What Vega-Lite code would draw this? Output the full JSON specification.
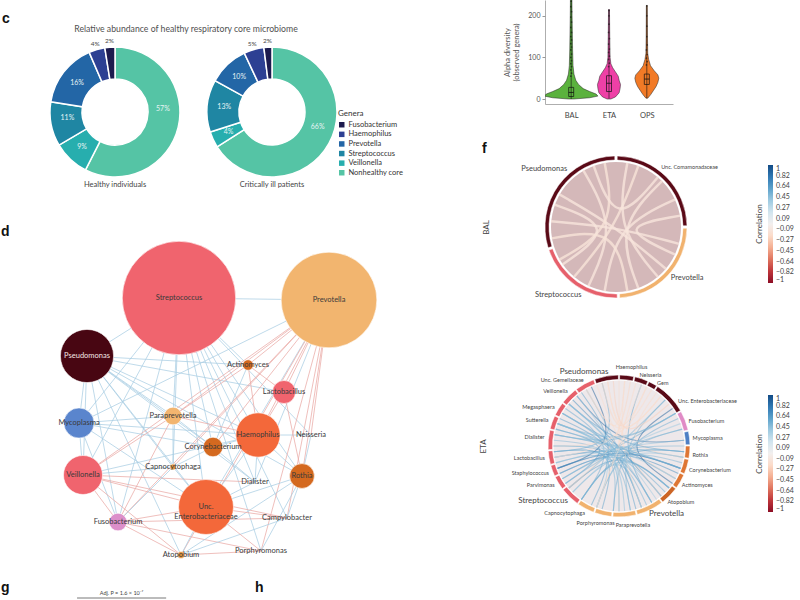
{
  "$schema": "https://vega.github.io/schema/vega-lite/v6.json",
  "padding": 0,
  "background": "white",
  "bounds": "flush",
  "spacing": 545,
  "config": {
    "view": {"stroke": null},
    "font": "Lato",
    "title": {"font": "Liberation Sans", "fontSize": 14, "fontWeight": "bold", "anchor": "start", "offset": 0, "color": "#111"}
  },
  "resolve": {"scale": {"fill": "independent", "stroke": "independent", "size": "independent", "color": "independent", "theta": "independent"}, "legend": {"fill": "independent", "stroke": "independent"}},
  "datasets": {
    "donut": [
      {"grp": "Healthy individuals", "genus": "Nonhealthy core", "pct": 57, "a0": 0, "a1": 57.5, "mid": 24, "lab": "57%"},
      {"grp": "Healthy individuals", "genus": "Veillonella", "pct": 9, "a0": 57.5, "a1": 66.5, "mid": 62, "lab": "9%"},
      {"grp": "Healthy individuals", "genus": "Streptococcus", "pct": 11, "a0": 66.5, "a1": 77.5, "mid": 73, "lab": "11%"},
      {"grp": "Healthy individuals", "genus": "Prevotella", "pct": 16, "a0": 77.5, "a1": 93.5, "mid": 85.5, "lab": "16%"},
      {"grp": "Healthy individuals", "genus": "Haemophilus", "pct": 4, "a0": 93.5, "a1": 97.5, "mid": 95.5, "lab": "4%"},
      {"grp": "Healthy individuals", "genus": "Fusobacterium", "pct": 2, "a0": 97.5, "a1": 100, "mid": 98.75, "lab": "2%"},
      {"grp": "Critically ill patients", "genus": "Nonhealthy core", "pct": 66, "a0": 0, "a1": 66, "mid": 30, "lab": "66%"},
      {"grp": "Critically ill patients", "genus": "Veillonella", "pct": 4, "a0": 66, "a1": 70, "mid": 68, "lab": "4%"},
      {"grp": "Critically ill patients", "genus": "Streptococcus", "pct": 13, "a0": 70, "a1": 83, "mid": 76.5, "lab": "13%"},
      {"grp": "Critically ill patients", "genus": "Prevotella", "pct": 10, "a0": 83, "a1": 93, "mid": 88, "lab": "10%"},
      {"grp": "Critically ill patients", "genus": "Haemophilus", "pct": 5, "a0": 93, "a1": 98, "mid": 95.5, "lab": "5%"},
      {"grp": "Critically ill patients", "genus": "Fusobacterium", "pct": 2, "a0": 98, "a1": 100, "mid": 99, "lab": "2%"}
    ],
    "nodes": [
      {"name": "Streptococcus", "x": 179, "y": 298, "abund": 40.96, "module": "1"},
      {"name": "Prevotella", "x": 329, "y": 300, "abund": 29.16, "module": "2"},
      {"name": "Pseudomonas", "x": 87, "y": 356, "abund": 9, "module": "3"},
      {"name": "Actinomyces", "x": 248, "y": 365, "abund": 0.36, "module": "4"},
      {"name": "Lactobacillus", "x": 284, "y": 392, "abund": 1.69, "module": "1"},
      {"name": "Mycoplasma", "x": 79, "y": 423, "abund": 2.89, "module": "6"},
      {"name": "Paraprevotella", "x": 173, "y": 416, "abund": 1, "module": "2"},
      {"name": "Haemophilus", "x": 258, "y": 435, "abund": 6.25, "module": "5"},
      {"name": "Neisseria", "x": 311, "y": 435, "abund": 0, "module": "4"},
      {"name": "Corynebacterium", "x": 213, "y": 447, "abund": 1.21, "module": "4"},
      {"name": "Capnocytophaga", "x": 173, "y": 467, "abund": 0.12, "module": "8"},
      {"name": "Veillonella", "x": 83, "y": 475, "abund": 4.84, "module": "1"},
      {"name": "Rothia", "x": 302, "y": 476, "abund": 1.96, "module": "4"},
      {"name": "Dialister", "x": 255, "y": 482, "abund": 0, "module": "4"},
      {"name": "Unc. Enterobacteriaceae", "x": 206, "y": 507, "abund": 9.61, "module": "5"},
      {"name": "Campylobacter", "x": 287, "y": 518, "abund": 0, "module": "4"},
      {"name": "Fusobacterium", "x": 118, "y": 522, "abund": 1, "module": "7"},
      {"name": "Atopobium", "x": 181, "y": 555, "abund": 0.16, "module": "8"},
      {"name": "Porphyromonas", "x": 261, "y": 551, "abund": 0, "module": "4"}
    ],
    "edges": [
      {"s": "Pseudomonas", "t": "Mycoplasma", "sign": "pos"},
      {"s": "Pseudomonas", "t": "Veillonella", "sign": "pos"},
      {"s": "Pseudomonas", "t": "Paraprevotella", "sign": "pos"},
      {"s": "Pseudomonas", "t": "Corynebacterium", "sign": "pos"},
      {"s": "Pseudomonas", "t": "Capnocytophaga", "sign": "pos"},
      {"s": "Pseudomonas", "t": "Unc. Enterobacteriaceae", "sign": "pos"},
      {"s": "Pseudomonas", "t": "Dialister", "sign": "pos"},
      {"s": "Pseudomonas", "t": "Actinomyces", "sign": "pos"},
      {"s": "Pseudomonas", "t": "Fusobacterium", "sign": "pos"},
      {"s": "Pseudomonas", "t": "Haemophilus", "sign": "pos"},
      {"s": "Pseudomonas", "t": "Atopobium", "sign": "pos"},
      {"s": "Pseudomonas", "t": "Lactobacillus", "sign": "pos"},
      {"s": "Pseudomonas", "t": "Rothia", "sign": "pos"},
      {"s": "Streptococcus", "t": "Mycoplasma", "sign": "pos"},
      {"s": "Streptococcus", "t": "Veillonella", "sign": "pos"},
      {"s": "Streptococcus", "t": "Paraprevotella", "sign": "pos"},
      {"s": "Streptococcus", "t": "Corynebacterium", "sign": "pos"},
      {"s": "Streptococcus", "t": "Capnocytophaga", "sign": "pos"},
      {"s": "Streptococcus", "t": "Haemophilus", "sign": "pos"},
      {"s": "Streptococcus", "t": "Dialister", "sign": "pos"},
      {"s": "Streptococcus", "t": "Campylobacter", "sign": "pos"},
      {"s": "Streptococcus", "t": "Unc. Enterobacteriaceae", "sign": "pos"},
      {"s": "Streptococcus", "t": "Prevotella", "sign": "pos"},
      {"s": "Streptococcus", "t": "Fusobacterium", "sign": "pos"},
      {"s": "Streptococcus", "t": "Rothia", "sign": "pos"},
      {"s": "Streptococcus", "t": "Neisseria", "sign": "pos"},
      {"s": "Streptococcus", "t": "Porphyromonas", "sign": "pos"},
      {"s": "Streptococcus", "t": "Pseudomonas", "sign": "pos"},
      {"s": "Streptococcus", "t": "Actinomyces", "sign": "pos"},
      {"s": "Prevotella", "t": "Actinomyces", "sign": "neg"},
      {"s": "Prevotella", "t": "Lactobacillus", "sign": "neg"},
      {"s": "Prevotella", "t": "Haemophilus", "sign": "neg"},
      {"s": "Prevotella", "t": "Neisseria", "sign": "neg"},
      {"s": "Prevotella", "t": "Rothia", "sign": "neg"},
      {"s": "Prevotella", "t": "Campylobacter", "sign": "neg"},
      {"s": "Prevotella", "t": "Porphyromonas", "sign": "neg"},
      {"s": "Prevotella", "t": "Veillonella", "sign": "neg"},
      {"s": "Prevotella", "t": "Fusobacterium", "sign": "neg"},
      {"s": "Prevotella", "t": "Paraprevotella", "sign": "neg"},
      {"s": "Prevotella", "t": "Corynebacterium", "sign": "neg"},
      {"s": "Prevotella", "t": "Dialister", "sign": "pos"},
      {"s": "Prevotella", "t": "Unc. Enterobacteriaceae", "sign": "pos"},
      {"s": "Prevotella", "t": "Atopobium", "sign": "neg"},
      {"s": "Prevotella", "t": "Capnocytophaga", "sign": "neg"},
      {"s": "Prevotella", "t": "Mycoplasma", "sign": "pos"},
      {"s": "Mycoplasma", "t": "Veillonella", "sign": "pos"},
      {"s": "Mycoplasma", "t": "Fusobacterium", "sign": "pos"},
      {"s": "Mycoplasma", "t": "Paraprevotella", "sign": "pos"},
      {"s": "Mycoplasma", "t": "Corynebacterium", "sign": "pos"},
      {"s": "Mycoplasma", "t": "Haemophilus", "sign": "pos"},
      {"s": "Mycoplasma", "t": "Unc. Enterobacteriaceae", "sign": "pos"},
      {"s": "Veillonella", "t": "Unc. Enterobacteriaceae", "sign": "neg"},
      {"s": "Veillonella", "t": "Fusobacterium", "sign": "neg"},
      {"s": "Veillonella", "t": "Dialister", "sign": "neg"},
      {"s": "Veillonella", "t": "Campylobacter", "sign": "neg"},
      {"s": "Veillonella", "t": "Capnocytophaga", "sign": "pos"},
      {"s": "Veillonella", "t": "Atopobium", "sign": "neg"},
      {"s": "Veillonella", "t": "Haemophilus", "sign": "pos"},
      {"s": "Veillonella", "t": "Paraprevotella", "sign": "neg"},
      {"s": "Fusobacterium", "t": "Unc. Enterobacteriaceae", "sign": "neg"},
      {"s": "Fusobacterium", "t": "Atopobium", "sign": "neg"},
      {"s": "Fusobacterium", "t": "Porphyromonas", "sign": "neg"},
      {"s": "Fusobacterium", "t": "Campylobacter", "sign": "neg"},
      {"s": "Fusobacterium", "t": "Paraprevotella", "sign": "neg"},
      {"s": "Fusobacterium", "t": "Capnocytophaga", "sign": "pos"},
      {"s": "Atopobium", "t": "Porphyromonas", "sign": "neg"},
      {"s": "Atopobium", "t": "Unc. Enterobacteriaceae", "sign": "pos"},
      {"s": "Atopobium", "t": "Campylobacter", "sign": "pos"},
      {"s": "Atopobium", "t": "Rothia", "sign": "pos"},
      {"s": "Unc. Enterobacteriaceae", "t": "Campylobacter", "sign": "neg"},
      {"s": "Unc. Enterobacteriaceae", "t": "Porphyromonas", "sign": "neg"},
      {"s": "Unc. Enterobacteriaceae", "t": "Dialister", "sign": "pos"},
      {"s": "Unc. Enterobacteriaceae", "t": "Rothia", "sign": "pos"},
      {"s": "Unc. Enterobacteriaceae", "t": "Haemophilus", "sign": "pos"},
      {"s": "Unc. Enterobacteriaceae", "t": "Capnocytophaga", "sign": "pos"},
      {"s": "Haemophilus", "t": "Neisseria", "sign": "pos"},
      {"s": "Haemophilus", "t": "Rothia", "sign": "pos"},
      {"s": "Haemophilus", "t": "Lactobacillus", "sign": "neg"},
      {"s": "Haemophilus", "t": "Corynebacterium", "sign": "pos"},
      {"s": "Haemophilus", "t": "Dialister", "sign": "pos"},
      {"s": "Actinomyces", "t": "Lactobacillus", "sign": "neg"},
      {"s": "Actinomyces", "t": "Paraprevotella", "sign": "neg"},
      {"s": "Actinomyces", "t": "Haemophilus", "sign": "neg"},
      {"s": "Actinomyces", "t": "Corynebacterium", "sign": "pos"},
      {"s": "Rothia", "t": "Campylobacter", "sign": "pos"},
      {"s": "Rothia", "t": "Porphyromonas", "sign": "pos"},
      {"s": "Rothia", "t": "Neisseria", "sign": "pos"},
      {"s": "Rothia", "t": "Lactobacillus", "sign": "neg"},
      {"s": "Paraprevotella", "t": "Corynebacterium", "sign": "pos"},
      {"s": "Paraprevotella", "t": "Capnocytophaga", "sign": "pos"},
      {"s": "Paraprevotella", "t": "Haemophilus", "sign": "neg"},
      {"s": "Corynebacterium", "t": "Dialister", "sign": "pos"},
      {"s": "Corynebacterium", "t": "Capnocytophaga", "sign": "pos"}
    ],
    "violin": [
      {"g": "BAL", "v": 0, "lo": 0.927, "hi": 1.073},
      {"g": "BAL", "v": 3, "lo": 0.512, "hi": 1.488},
      {"g": "BAL", "v": 7, "lo": 0.293, "hi": 1.707},
      {"g": "BAL", "v": 12, "lo": 0.341, "hi": 1.659},
      {"g": "BAL", "v": 18, "lo": 0.512, "hi": 1.488},
      {"g": "BAL", "v": 25, "lo": 0.683, "hi": 1.317},
      {"g": "BAL", "v": 35, "lo": 0.805, "hi": 1.195},
      {"g": "BAL", "v": 45, "lo": 0.878, "hi": 1.122},
      {"g": "BAL", "v": 60, "lo": 0.927, "hi": 1.073},
      {"g": "BAL", "v": 80, "lo": 0.951, "hi": 1.049},
      {"g": "BAL", "v": 120, "lo": 0.963, "hi": 1.037},
      {"g": "BAL", "v": 200, "lo": 0.976, "hi": 1.024},
      {"g": "BAL", "v": 240, "lo": 0.98, "hi": 1.02},
      {"g": "ETA", "v": 0, "lo": 1.951, "hi": 2.049},
      {"g": "ETA", "v": 5, "lo": 1.829, "hi": 2.171},
      {"g": "ETA", "v": 15, "lo": 1.732, "hi": 2.268},
      {"g": "ETA", "v": 25, "lo": 1.707, "hi": 2.293},
      {"g": "ETA", "v": 35, "lo": 1.695, "hi": 2.305},
      {"g": "ETA", "v": 45, "lo": 1.732, "hi": 2.268},
      {"g": "ETA", "v": 55, "lo": 1.756, "hi": 2.244},
      {"g": "ETA", "v": 65, "lo": 1.829, "hi": 2.171},
      {"g": "ETA", "v": 75, "lo": 1.902, "hi": 2.098},
      {"g": "ETA", "v": 85, "lo": 1.951, "hi": 2.049},
      {"g": "ETA", "v": 100, "lo": 1.971, "hi": 2.029},
      {"g": "ETA", "v": 150, "lo": 1.98, "hi": 2.02},
      {"g": "ETA", "v": 215, "lo": 1.988, "hi": 2.012},
      {"g": "OPS", "v": 2, "lo": 2.976, "hi": 3.024},
      {"g": "OPS", "v": 10, "lo": 2.902, "hi": 3.098},
      {"g": "OPS", "v": 20, "lo": 2.829, "hi": 3.171},
      {"g": "OPS", "v": 30, "lo": 2.756, "hi": 3.244},
      {"g": "OPS", "v": 40, "lo": 2.707, "hi": 3.293},
      {"g": "OPS", "v": 50, "lo": 2.683, "hi": 3.317},
      {"g": "OPS", "v": 58, "lo": 2.707, "hi": 3.293},
      {"g": "OPS", "v": 68, "lo": 2.805, "hi": 3.195},
      {"g": "OPS", "v": 80, "lo": 2.902, "hi": 3.098},
      {"g": "OPS", "v": 95, "lo": 2.951, "hi": 3.049},
      {"g": "OPS", "v": 110, "lo": 2.976, "hi": 3.024},
      {"g": "OPS", "v": 150, "lo": 2.983, "hi": 3.017},
      {"g": "OPS", "v": 225, "lo": 2.988, "hi": 3.012}
    ],
    "vbox": [
      {"g": "BAL", "c": 1, "q1": 6, "med": 16, "q3": 28, "lo": 0, "hi": 240},
      {"g": "ETA", "c": 2, "q1": 18, "med": 38, "q3": 56, "lo": 1, "hi": 215},
      {"g": "OPS", "c": 3, "q1": 35, "med": 48, "q3": 60, "lo": 2, "hi": 225}
    ],
    "vpts": [
      {"x": 0.99, "v": 55}, {"x": 1.01, "v": 62}, {"x": 0.99, "v": 70}, {"x": 1.01, "v": 78}, {"x": 0.99, "v": 85},
      {"x": 1.01, "v": 92}, {"x": 0.99, "v": 100}, {"x": 1.01, "v": 108}, {"x": 0.99, "v": 118}, {"x": 1.01, "v": 125},
      {"x": 0.99, "v": 133}, {"x": 1.01, "v": 142}, {"x": 0.99, "v": 150}, {"x": 1.01, "v": 160}, {"x": 0.99, "v": 172},
      {"x": 1.01, "v": 185}, {"x": 0.99, "v": 197}, {"x": 1.01, "v": 210}, {"x": 0.99, "v": 222}, {"x": 1.0, "v": 235},
      {"x": 1.99, "v": 78}, {"x": 2.01, "v": 86}, {"x": 1.99, "v": 95}, {"x": 2.01, "v": 103}, {"x": 1.99, "v": 112},
      {"x": 2.01, "v": 120}, {"x": 1.99, "v": 132}, {"x": 2.01, "v": 145}, {"x": 1.99, "v": 160}, {"x": 2.0, "v": 180},
      {"x": 2.0, "v": 200}, {"x": 2.0, "v": 213},
      {"x": 2.99, "v": 82}, {"x": 3.01, "v": 90}, {"x": 2.99, "v": 98}, {"x": 3.01, "v": 107}, {"x": 2.99, "v": 118},
      {"x": 3.01, "v": 130}, {"x": 3.0, "v": 150}, {"x": 3.0, "v": 175}, {"x": 3.0, "v": 200}, {"x": 3.0, "v": 224}
    ],
    "circle": [
      {"ang": -1, "x": 0, "y": 0},
      {"ang": 0, "x": 0, "y": 0.92}, {"ang": 5, "x": 0.08, "y": 0.916}, {"ang": 10, "x": 0.16, "y": 0.906}, {"ang": 15, "x": 0.238, "y": 0.889},
      {"ang": 20, "x": 0.315, "y": 0.865}, {"ang": 25, "x": 0.389, "y": 0.834}, {"ang": 30, "x": 0.46, "y": 0.797}, {"ang": 35, "x": 0.528, "y": 0.753},
      {"ang": 40, "x": 0.592, "y": 0.705}, {"ang": 45, "x": 0.65, "y": 0.65}, {"ang": 50, "x": 0.705, "y": 0.592}, {"ang": 55, "x": 0.753, "y": 0.528},
      {"ang": 60, "x": 0.797, "y": 0.46}, {"ang": 65, "x": 0.834, "y": 0.389}, {"ang": 70, "x": 0.865, "y": 0.315}, {"ang": 75, "x": 0.889, "y": 0.238},
      {"ang": 80, "x": 0.906, "y": 0.16}, {"ang": 85, "x": 0.916, "y": 0.08}, {"ang": 90, "x": 0.92, "y": 0}, {"ang": 95, "x": 0.916, "y": -0.08},
      {"ang": 100, "x": 0.906, "y": -0.16}, {"ang": 105, "x": 0.889, "y": -0.238}, {"ang": 110, "x": 0.865, "y": -0.315}, {"ang": 115, "x": 0.834, "y": -0.389},
      {"ang": 120, "x": 0.797, "y": -0.46}, {"ang": 125, "x": 0.753, "y": -0.528}, {"ang": 130, "x": 0.705, "y": -0.592}, {"ang": 135, "x": 0.65, "y": -0.65},
      {"ang": 140, "x": 0.592, "y": -0.705}, {"ang": 145, "x": 0.528, "y": -0.753}, {"ang": 150, "x": 0.46, "y": -0.797}, {"ang": 155, "x": 0.389, "y": -0.834},
      {"ang": 160, "x": 0.315, "y": -0.865}, {"ang": 165, "x": 0.238, "y": -0.889}, {"ang": 170, "x": 0.16, "y": -0.906}, {"ang": 175, "x": 0.08, "y": -0.916},
      {"ang": 180, "x": 0, "y": -0.92}, {"ang": 185, "x": -0.08, "y": -0.916}, {"ang": 190, "x": -0.16, "y": -0.906}, {"ang": 195, "x": -0.238, "y": -0.889},
      {"ang": 200, "x": -0.315, "y": -0.865}, {"ang": 205, "x": -0.389, "y": -0.834}, {"ang": 210, "x": -0.46, "y": -0.797}, {"ang": 215, "x": -0.528, "y": -0.753},
      {"ang": 220, "x": -0.592, "y": -0.705}, {"ang": 225, "x": -0.65, "y": -0.65}, {"ang": 230, "x": -0.705, "y": -0.592}, {"ang": 235, "x": -0.753, "y": -0.528},
      {"ang": 240, "x": -0.797, "y": -0.46}, {"ang": 245, "x": -0.834, "y": -0.389}, {"ang": 250, "x": -0.865, "y": -0.315}, {"ang": 255, "x": -0.889, "y": -0.238},
      {"ang": 260, "x": -0.906, "y": -0.16}, {"ang": 265, "x": -0.916, "y": -0.08}, {"ang": 270, "x": -0.92, "y": 0}, {"ang": 275, "x": -0.916, "y": 0.08},
      {"ang": 280, "x": -0.906, "y": 0.16}, {"ang": 285, "x": -0.889, "y": 0.238}, {"ang": 290, "x": -0.865, "y": 0.315}, {"ang": 295, "x": -0.834, "y": 0.389},
      {"ang": 300, "x": -0.797, "y": 0.46}, {"ang": 305, "x": -0.753, "y": 0.528}, {"ang": 310, "x": -0.705, "y": 0.592}, {"ang": 315, "x": -0.65, "y": 0.65},
      {"ang": 320, "x": -0.592, "y": 0.705}, {"ang": 325, "x": -0.528, "y": 0.753}, {"ang": 330, "x": -0.46, "y": 0.797}, {"ang": 335, "x": -0.389, "y": 0.834},
      {"ang": 340, "x": -0.315, "y": 0.865}, {"ang": 345, "x": -0.238, "y": 0.889}, {"ang": 350, "x": -0.16, "y": 0.906}, {"ang": 355, "x": -0.08, "y": 0.916}
    ],
    "chords": [
      {"v": "BAL", "c": "b1", "p0": 300, "p1": -1, "p2": 130, "r": -0.1},
      {"v": "BAL", "c": "b2", "p0": 330, "p1": -1, "p2": 205, "r": -0.1},
      {"v": "BAL", "c": "b3", "p0": 20, "p1": -1, "p2": 220, "r": -0.12},
      {"v": "BAL", "c": "b4", "p0": 45, "p1": -1, "p2": 160, "r": -0.1},
      {"v": "BAL", "c": "b5", "p0": 275, "p1": -1, "p2": 105, "r": -0.1},
      {"v": "BAL", "c": "b6", "p0": 350, "p1": -1, "p2": 240, "r": -0.12},
      {"v": "BAL", "c": "b7", "p0": 65, "p1": -1, "p2": 190, "r": -0.1},
      {"v": "BAL", "c": "b8", "p0": 10, "p1": -1, "p2": 140, "r": -0.1},
      {"v": "BAL", "c": "b9", "p0": 290, "p1": -1, "p2": 235, "r": -0.1},
      {"v": "BAL", "c": "b10", "p0": 340, "p1": -1, "p2": 40, "r": -0.1},
      {"v": "BAL", "c": "b11", "p0": 260, "p1": -1, "p2": 170, "r": -0.12},
      {"v": "BAL", "c": "b12", "p0": 80, "p1": -1, "p2": 115, "r": -0.1},
      {"v": "ETA", "c": "e1", "p0": 300, "p1": -1, "p2": 120, "r": 0.6},
      {"v": "ETA", "c": "e2", "p0": 290, "p1": -1, "p2": 135, "r": 0.55},
      {"v": "ETA", "c": "e3", "p0": 280, "p1": -1, "p2": 100, "r": 0.5},
      {"v": "ETA", "c": "e4", "p0": 270, "p1": -1, "p2": 150, "r": 0.6},
      {"v": "ETA", "c": "e5", "p0": 260, "p1": -1, "p2": 110, "r": 0.65},
      {"v": "ETA", "c": "e6", "p0": 250, "p1": -1, "p2": 90, "r": 0.5},
      {"v": "ETA", "c": "e7", "p0": 310, "p1": -1, "p2": 160, "r": 0.55},
      {"v": "ETA", "c": "e8", "p0": 315, "p1": -1, "p2": 140, "r": 0.7},
      {"v": "ETA", "c": "e9", "p0": 320, "p1": -1, "p2": 85, "r": 0.85},
      {"v": "ETA", "c": "e10", "p0": 240, "p1": -1, "p2": 60, "r": 0.55},
      {"v": "ETA", "c": "e11", "p0": 230, "p1": -1, "p2": 45, "r": 0.5},
      {"v": "ETA", "c": "e12", "p0": 325, "p1": -1, "p2": 205, "r": 0.6},
      {"v": "ETA", "c": "e13", "p0": 305, "p1": -1, "p2": 215, "r": 0.55},
      {"v": "ETA", "c": "e14", "p0": 275, "p1": -1, "p2": 180, "r": 0.5},
      {"v": "ETA", "c": "e15", "p0": 255, "p1": -1, "p2": 170, "r": 0.5},
      {"v": "ETA", "c": "e16", "p0": 265, "p1": -1, "p2": 195, "r": 0.6},
      {"v": "ETA", "c": "e17", "p0": 285, "p1": -1, "p2": 235, "r": 0.6},
      {"v": "ETA", "c": "e18", "p0": 335, "p1": -1, "p2": 250, "r": 0.9},
      {"v": "ETA", "c": "e19", "p0": 345, "p1": -1, "p2": 265, "r": 0.55},
      {"v": "ETA", "c": "e20", "p0": 20, "p1": -1, "p2": 150, "r": 0.6},
      {"v": "ETA", "c": "e21", "p0": 45, "p1": -1, "p2": 170, "r": 0.5},
      {"v": "ETA", "c": "e22", "p0": 55, "p1": -1, "p2": 125, "r": 0.9},
      {"v": "ETA", "c": "e23", "p0": 65, "p1": -1, "p2": 185, "r": 0.55},
      {"v": "ETA", "c": "e24", "p0": 75, "p1": -1, "p2": 200, "r": 0.5},
      {"v": "ETA", "c": "e25", "p0": 95, "p1": -1, "p2": 215, "r": 0.6},
      {"v": "ETA", "c": "e26", "p0": 105, "p1": -1, "p2": 225, "r": 0.5},
      {"v": "ETA", "c": "e27", "p0": 130, "p1": -1, "p2": 230, "r": 0.65},
      {"v": "ETA", "c": "e28", "p0": 115, "p1": -1, "p2": 245, "r": 0.7},
      {"v": "ETA", "c": "e29", "p0": 155, "p1": -1, "p2": 215, "r": 0.5},
      {"v": "ETA", "c": "e30", "p0": 160, "p1": -1, "p2": 300, "r": 0.55},
      {"v": "ETA", "c": "e31", "p0": 345, "p1": -1, "p2": 25, "r": -0.22},
      {"v": "ETA", "c": "e32", "p0": 350, "p1": -1, "p2": 40, "r": -0.2},
      {"v": "ETA", "c": "e33", "p0": 355, "p1": -1, "p2": 50, "r": -0.25},
      {"v": "ETA", "c": "e34", "p0": 5, "p1": -1, "p2": 330, "r": -0.2},
      {"v": "ETA", "c": "e35", "p0": 0, "p1": -1, "p2": 180, "r": -0.18},
      {"v": "ETA", "c": "e36", "p0": 15, "p1": -1, "p2": 200, "r": -0.2},
      {"v": "ETA", "c": "e37", "p0": 10, "p1": -1, "p2": 230, "r": -0.22},
      {"v": "ETA", "c": "e38", "p0": 340, "p1": -1, "p2": 140, "r": -0.18},
      {"v": "ETA", "c": "e39", "p0": 30, "p1": -1, "p2": 270, "r": -0.2},
      {"v": "ETA", "c": "e40", "p0": 35, "p1": -1, "p2": 100, "r": -0.2},
      {"v": "ETA", "c": "e41", "p0": 5, "p1": -1, "p2": 160, "r": -0.18},
      {"v": "ETA", "c": "e42", "p0": 350, "p1": -1, "p2": 120, "r": -0.18},
      {"v": "ETA", "c": "e43", "p0": 285, "p1": -1, "p2": 110, "r": 0.5},
      {"v": "ETA", "c": "e44", "p0": 295, "p1": -1, "p2": 165, "r": 0.6},
      {"v": "ETA", "c": "e45", "p0": 245, "p1": -1, "p2": 130, "r": 0.55},
      {"v": "ETA", "c": "e46", "p0": 235, "p1": -1, "p2": 75, "r": 0.5},
      {"v": "ETA", "c": "e47", "p0": 310, "p1": -1, "p2": 95, "r": 0.6},
      {"v": "ETA", "c": "e48", "p0": 200, "p1": -1, "p2": 100, "r": 0.45},
      {"v": "ETA", "c": "e49", "p0": 270, "p1": -1, "p2": 120, "r": 0.4},
      {"v": "ETA", "c": "e50", "p0": 300, "p1": -1, "p2": 150, "r": 0.45},
      {"v": "ETA", "c": "e51", "p0": 280, "p1": -1, "p2": 60, "r": 0.5},
      {"v": "ETA", "c": "e52", "p0": 320, "p1": -1, "p2": 180, "r": 0.4},
      {"v": "ETA", "c": "e53", "p0": 260, "p1": -1, "p2": 140, "r": 0.45},
      {"v": "ETA", "c": "e54", "p0": 250, "p1": -1, "p2": 110, "r": 0.75},
      {"v": "ETA", "c": "e55", "p0": 290, "p1": -1, "p2": 200, "r": 0.4},
      {"v": "ETA", "c": "e56", "p0": 240, "p1": -1, "p2": 95, "r": 0.5},
      {"v": "ETA", "c": "e57", "p0": 330, "p1": -1, "p2": 160, "r": 0.45},
      {"v": "ETA", "c": "e58", "p0": 225, "p1": -1, "p2": 70, "r": 0.4},
      {"v": "ETA", "c": "e59", "p0": 215, "p1": -1, "p2": 130, "r": 0.5},
      {"v": "ETA", "c": "e60", "p0": 175, "p1": -1, "p2": 290, "r": 0.45},
      {"v": "ETA", "c": "e61", "p0": 185, "p1": -1, "p2": 265, "r": 0.5},
      {"v": "ETA", "c": "e62", "p0": 145, "p1": -1, "p2": 310, "r": 0.4},
      {"v": "ETA", "c": "e63", "p0": 20, "p1": -1, "p2": 260, "r": -0.15},
      {"v": "ETA", "c": "e64", "p0": 40, "p1": -1, "p2": 330, "r": -0.18},
      {"v": "ETA", "c": "e65", "p0": 25, "p1": -1, "p2": 200, "r": -0.15},
      {"v": "ETA", "c": "e66", "p0": 60, "p1": -1, "p2": 290, "r": 0.5},
      {"v": "ETA", "c": "e67", "p0": 85, "p1": -1, "p2": 255, "r": 0.45},
      {"v": "ETA", "c": "e68", "p0": 110, "p1": -1, "p2": 280, "r": 0.5}
    ],
    "rings": [
      {"v": "BAL", "name": "Pseudomonas", "a0": 253, "a1": 359, "mod": "M", "la": 320, "major": true},
      {"v": "BAL", "name": "Unc. Comamonadaceae", "a0": 1, "a1": 89, "mod": "M", "la": 37, "major": false},
      {"v": "BAL", "name": "Prevotella", "a0": 91, "a1": 177, "mod": "L", "la": 133, "major": true},
      {"v": "BAL", "name": "Streptococcus", "a0": 179, "a1": 251, "mod": "R", "la": 207, "major": true},
      {"v": "ETA", "name": "Haemophilus", "a0": 0.5, "a1": 12, "mod": "M", "la": 9, "major": false},
      {"v": "ETA", "name": "Neisseria", "a0": 13, "a1": 24, "mod": "M", "la": 16, "major": false},
      {"v": "ETA", "name": "Gem", "a0": 25, "a1": 32, "mod": "M", "la": 31, "major": false},
      {"v": "ETA", "name": "Unc. Enterobacteriaceae", "a0": 33, "a1": 60, "mod": "M", "la": 53, "major": false},
      {"v": "ETA", "name": "Fusobacterium", "a0": 61, "a1": 77, "mod": "F", "la": 70, "major": false},
      {"v": "ETA", "name": "Mycoplasma", "a0": 78, "a1": 89, "mod": "B", "la": 84, "major": false},
      {"v": "ETA", "name": "Rothia", "a0": 90, "a1": 100, "mod": "O", "la": 97, "major": false},
      {"v": "ETA", "name": "Corynebacterium", "a0": 101, "a1": 113, "mod": "O", "la": 109, "major": false},
      {"v": "ETA", "name": "Actinomyces", "a0": 114, "a1": 126, "mod": "O", "la": 122, "major": false},
      {"v": "ETA", "name": "Atopobium", "a0": 127, "a1": 142, "mod": "DO", "la": 139, "major": false},
      {"v": "ETA", "name": "Prevotella", "a0": 143, "a1": 165, "mod": "L", "la": 156, "major": true},
      {"v": "ETA", "name": "Paraprevotella", "a0": 166, "a1": 185, "mod": "L", "la": 170, "major": false},
      {"v": "ETA", "name": "Porphyromonas", "a0": 186, "a1": 200, "mod": "L", "la": 197, "major": false},
      {"v": "ETA", "name": "Capnocytophaga", "a0": 201, "a1": 215, "mod": "L", "la": 207, "major": false},
      {"v": "ETA", "name": "Streptococcus", "a0": 216, "a1": 232, "mod": "R", "la": 223, "major": true},
      {"v": "ETA", "name": "Parvimonas", "a0": 233, "a1": 244, "mod": "R", "la": 239, "major": false},
      {"v": "ETA", "name": "Staphylococcus", "a0": 245, "a1": 254, "mod": "R", "la": 249, "major": false},
      {"v": "ETA", "name": "Lactobacillus", "a0": 255, "a1": 266, "mod": "R", "la": 261, "major": false},
      {"v": "ETA", "name": "Dialister", "a0": 267, "a1": 283, "mod": "R", "la": 277, "major": false},
      {"v": "ETA", "name": "Sutterella", "a0": 284, "a1": 295, "mod": "R", "la": 290, "major": false},
      {"v": "ETA", "name": "Megasphaera", "a0": 296, "a1": 307, "mod": "R", "la": 301, "major": false},
      {"v": "ETA", "name": "Veillonella", "a0": 308, "a1": 322, "mod": "R", "la": 317, "major": false},
      {"v": "ETA", "name": "Unc. Gemellaceae", "a0": 323, "a1": 339, "mod": "R", "la": 332, "major": false},
      {"v": "ETA", "name": "Pseudomonas", "a0": 340, "a1": 359.5, "mod": "M", "la": 352, "major": true}
    ]
  },
  "hconcat": [
    {
      "vconcat": [
        {
          "vconcat": [
            {
              "width": 372, "height": 30,
              "title": {"text": "c", "dy": 30, "dx": 2},
              "data": {"values": [{"t": "Relative abundance of healthy respiratory core microbiome"}]},
              "mark": {"type": "text", "fontSize": 8.7, "color": "#505050", "dy": 14},
              "encoding": {"text": {"field": "t"}}
            },
            {
              "width": 450, "height": 144,
              "data": {"name": "donut"},
              "encoding": {
                "x": {"field": "grp", "type": "nominal", "scale": {"type": "point", "padding": 0, "domain": ["Healthy individuals", "Critically ill patients"], "range": [115, 272]}, "axis": null}
              },
              "layer": [
                {
                  "mark": {"type": "arc", "outerRadius": 65, "innerRadius": 33, "stroke": "white", "strokeWidth": 1.5},
                  "encoding": {
                    "theta": {"field": "a0", "type": "quantitative", "stack": null, "scale": {"domain": [0, 100], "range": [0, 6.2832], "nice": false}},
                    "theta2": {"field": "a1"},
                    "fill": {
                      "field": "genus", "type": "nominal",
                      "scale": {"domain": ["Fusobacterium", "Haemophilus", "Prevotella", "Streptococcus", "Veillonella", "Nonhealthy core"], "range": ["#1d1b4e", "#2d4093", "#2366a6", "#1f86a3", "#27aeae", "#55c4a5"]},
                      "legend": {"orient": "none", "legendX": 338, "legendY": 70, "title": "Genera", "titleFontSize": 8, "titleFontWeight": "normal", "titleColor": "#333", "titlePadding": 3, "labelFontSize": 7.5, "labelColor": "#333", "symbolType": "square", "symbolSize": 30, "symbolStrokeWidth": 0, "rowPadding": 0.6, "labelOffset": 3}
                    }
                  }
                },
                {
                  "transform": [{"filter": {"not": {"field": "genus", "oneOf": ["Haemophilus", "Fusobacterium"]}}}],
                  "mark": {"type": "text", "radius": 48, "fontSize": 7, "color": "#e6f3f3"},
                  "encoding": {
                    "theta": {"field": "mid", "type": "quantitative", "scale": {"domain": [0, 100], "range": [0, 6.2832], "nice": false}},
                    "text": {"field": "lab"}
                  }
                },
                {
                  "transform": [{"filter": {"field": "genus", "oneOf": ["Haemophilus", "Fusobacterium"]}}],
                  "mark": {"type": "text", "radius": 71, "fontSize": 6.5, "color": "#444"},
                  "encoding": {
                    "theta": {"field": "mid", "type": "quantitative", "scale": {"domain": [0, 100], "range": [0, 6.2832], "nice": false}},
                    "text": {"field": "lab"}
                  }
                },
                {
                  "transform": [{"filter": {"field": "genus", "equal": "Nonhealthy core"}}],
                  "mark": {"type": "text", "dy": 73, "fontSize": 7.5, "color": "#444"},
                  "encoding": {"text": {"field": "grp"}}
                }
              ]
            }
          ],
          "spacing": 10, "bounds": "flush",
          "resolve": {"scale": {"fill": "independent", "stroke": "independent", "size": "independent", "color": "independent", "theta": "independent"}, "legend": {"fill": "independent", "stroke": "independent"}}
        },
        {
          "vconcat": [
            {
              "width": 450, "height": 318,
              "title": {"text": "d", "offset": 1, "dx": 1},
              "layer": [
                {
                  "data": {"name": "edges"},
                  "transform": [
                    {"lookup": "s", "from": {"data": {"name": "nodes"}, "key": "name", "fields": ["x", "y"]}, "as": ["sx", "sy"]},
                    {"lookup": "t", "from": {"data": {"name": "nodes"}, "key": "name", "fields": ["x", "y"]}, "as": ["tx", "ty"]}
                  ],
                  "mark": {"type": "rule", "strokeWidth": 1, "strokeOpacity": 0.75},
                  "encoding": {
                    "x": {"field": "sx", "type": "quantitative", "scale": {"domain": [0, 450], "nice": false, "zero": false}, "axis": null},
                    "y": {"field": "sy", "type": "quantitative", "scale": {"domain": [247, 565], "reverse": true, "nice": false, "zero": false}, "axis": null},
                    "x2": {"field": "tx"},
                    "y2": {"field": "ty"},
                    "stroke": {"field": "sign", "type": "nominal", "scale": {"domain": ["pos", "neg"], "range": ["#a9cde3", "#e9aaa5"]}, "legend": null}
                  }
                },
                {
                  "data": {"name": "nodes"},
                  "mark": {"type": "circle", "opacity": 1, "stroke": "white", "strokeWidth": 0.6},
                  "encoding": {
                    "x": {"field": "x", "type": "quantitative", "scale": {"domain": [0, 450], "nice": false, "zero": false}, "axis": null},
                    "y": {"field": "y", "type": "quantitative", "scale": {"domain": [247, 565], "reverse": true, "nice": false, "zero": false}, "axis": null},
                    "size": {"field": "abund", "type": "quantitative", "scale": {"type": "linear", "domain": [0, 41], "range": [0, 12881], "nice": false}, "legend": null},
                    "fill": {"field": "module", "type": "nominal", "scale": {"domain": ["1", "2", "3", "4", "5", "6", "7", "8"], "range": ["#f0646e", "#f2b56f", "#480612", "#d4691f", "#f3683a", "#5a85cd", "#dc8fca", "#e4943c"]}, "legend": null}
                  }
                },
                {
                  "data": {"name": "nodes"},
                  "mark": {"type": "text", "fontSize": 7.5, "lineBreak": " "},
                  "encoding": {
                    "x": {"field": "x", "type": "quantitative", "scale": {"domain": [0, 450], "nice": false, "zero": false}, "axis": null},
                    "y": {"field": "y", "type": "quantitative", "scale": {"domain": [247, 565], "reverse": true, "nice": false, "zero": false}, "axis": null},
                    "text": {"field": "name"},
                    "color": {"condition": {"test": "datum.name === 'Pseudomonas'", "value": "#f4e6e6"}, "value": "#3a3a3a"}
                  }
                }
              ]
            },
            {
              "hconcat": [
                {
                  "width": 200, "height": 20,
                  "title": {"text": "g", "dy": 11, "dx": 1},
                  "data": {"values": [{"x1": 1, "x2": 2, "xm": 1.5, "label": "Adj. P = 1.6 × 10⁻⁷"}]},
                  "layer": [
                    {
                      "mark": {"type": "rule", "stroke": "#555", "strokeWidth": 0.8},
                      "encoding": {"x": {"field": "x1", "type": "quantitative", "scale": {"domain": [0.135, 2.38], "nice": false, "zero": false}, "axis": null}, "x2": {"field": "x2"}}
                    },
                    {
                      "mark": {"type": "text", "fontSize": 5.5, "color": "#444", "dy": -5},
                      "encoding": {"x": {"field": "xm", "type": "quantitative", "scale": {"domain": [0.135, 2.38], "nice": false, "zero": false}, "axis": null}, "text": {"field": "label"}}
                    }
                  ]
                },
                {
                  "width": 100, "height": 20,
                  "title": {"text": "h", "dy": 11},
                  "data": {"values": [{"t": ""}]},
                  "mark": "text",
                  "encoding": {"text": {"field": "t"}}
                }
              ],
              "spacing": 55, "bounds": "flush"
            }
          ],
          "spacing": 23, "bounds": "flush",
          "resolve": {"scale": {"fill": "independent", "stroke": "independent", "size": "independent", "color": "independent", "theta": "independent"}, "legend": {"fill": "independent", "stroke": "independent"}}
        }
      ],
      "spacing": 247, "bounds": "flush",
      "resolve": {"scale": {"fill": "independent", "stroke": "independent", "size": "independent", "color": "independent", "theta": "independent"}, "legend": {"fill": "independent", "stroke": "independent"}}
    },
    {
      "vconcat": [
        {
          "width": 128, "height": 104,
          "layer": [
            {
              "data": {"name": "violin"},
              "mark": {"type": "area", "orient": "horizontal", "stroke": "#222", "strokeWidth": 0.5, "clip": true, "opacity": 1},
              "encoding": {
                "y": {"field": "v", "type": "quantitative", "scale": {"domain": [-12, 238], "nice": false, "zero": false},
                  "axis": {"values": [0, 100, 200], "title": ["Alpha diversity", "(observed genera)"], "titleFontSize": 7.5, "titleFontWeight": "normal", "titleColor": "#555", "titlePadding": 7, "labelFontSize": 7, "labelColor": "#555", "tickSize": 3, "tickColor": "#999", "domainColor": "#999", "domainWidth": 0.8, "grid": false, "labelPadding": 2}},
                "x": {"field": "lo", "type": "quantitative", "stack": null, "scale": {"domain": [0.44, 3.56], "nice": false, "zero": false},
                  "axis": {"values": [1, 2, 3], "labelExpr": "datum.value == 1 ? 'BAL' : datum.value == 2 ? 'ETA' : 'OPS'", "title": null, "ticks": false, "domainColor": "#999", "domainWidth": 0.8, "labelFontSize": 7.5, "labelColor": "#444", "labelPadding": 7, "grid": false}},
                "x2": {"field": "hi"},
                "fill": {"field": "g", "type": "nominal", "scale": {"domain": ["BAL", "ETA", "OPS"], "range": ["#5bb23e", "#ee40a6", "#f27a26"]}, "legend": null}
              }
            },
            {
              "data": {"name": "vbox"},
              "mark": {"type": "rule", "stroke": "#111", "strokeWidth": 0.6, "clip": true},
              "encoding": {
                "x": {"field": "c", "type": "quantitative", "scale": {"domain": [0.44, 3.56], "nice": false, "zero": false}},
                "y": {"field": "lo", "type": "quantitative", "scale": {"domain": [-12, 238], "nice": false, "zero": false}},
                "y2": {"field": "hi"}
              }
            },
            {
              "data": {"name": "vpts"},
              "mark": {"type": "circle", "size": 3, "color": "#111", "opacity": 0.6, "clip": true},
              "encoding": {
                "x": {"field": "x", "type": "quantitative", "scale": {"domain": [0.44, 3.56], "nice": false, "zero": false}},
                "y": {"field": "v", "type": "quantitative", "scale": {"domain": [-12, 238], "nice": false, "zero": false}}
              }
            },
            {
              "data": {"name": "vbox"},
              "mark": {"type": "bar", "width": 5, "fillOpacity": 0, "stroke": "#111", "strokeWidth": 0.7},
              "encoding": {
                "x": {"field": "c", "type": "quantitative", "scale": {"domain": [0.44, 3.56], "nice": false, "zero": false}},
                "y": {"field": "q1", "type": "quantitative", "scale": {"domain": [-12, 238], "nice": false, "zero": false}},
                "y2": {"field": "q3"}
              }
            },
            {
              "data": {"name": "vbox"},
              "mark": {"type": "tick", "orient": "horizontal", "size": 5, "thickness": 0.8, "color": "#111", "opacity": 1},
              "encoding": {
                "x": {"field": "c", "type": "quantitative", "scale": {"domain": [0.44, 3.56], "nice": false, "zero": false}},
                "y": {"field": "med", "type": "quantitative", "scale": {"domain": [-12, 238], "nice": false, "zero": false}}
              }
            }
          ]
        },
        {
          "vconcat": [
            {
              "width": 142, "height": 142,
              "title": {"text": "f", "frame": "group", "dx": -63, "dy": 5},
              "layer": [
                {
                  "data": {"values": [{"panel": "BAL"}]},
                  "mark": {"type": "arc", "outerRadius": 65, "innerRadius": 0, "theta": 0, "theta2": 6.2832, "fill": "#d4b8b9"},
                  "encoding": {}
                },
                {
                  "data": {"name": "chords"},
                  "transform": [
                    {"filter": {"field": "v", "equal": "BAL"}},
                    {"fold": ["p0", "p1", "p2"], "as": ["k", "ang"]},
                    {"lookup": "ang", "from": {"data": {"name": "circle"}, "key": "ang", "fields": ["x", "y"]}}
                  ],
                  "mark": {"type": "line", "interpolate": "basis", "strokeWidth": 2.5, "strokeOpacity": 0.8},
                  "encoding": {
                    "x": {"field": "x", "type": "quantitative", "scale": {"domain": [-1, 1], "nice": false}, "axis": null},
                    "y": {"field": "y", "type": "quantitative", "scale": {"domain": [-1, 1], "nice": false}, "axis": {"title": "BAL", "labels": false, "ticks": false, "domain": false, "grid": false, "titlePadding": 55, "titleFontSize": 8, "titleFontWeight": "normal", "titleColor": "#444"}},
                    "detail": {"field": "c"},
                    "order": {"field": "k", "type": "ordinal"},
                    "stroke": {"field": "r", "type": "quantitative", "scale": {"scheme": "redblue", "domain": [-1, 1]},
                      "legend": {"orient": "none", "legendX": 211, "legendY": 9, "direction": "vertical", "title": "Correlation", "titleOrient": "left", "titleFontSize": 8, "titleFontWeight": "normal", "titleColor": "#444", "titlePadding": 3, "gradientLength": 118, "gradientThickness": 5, "gradientStrokeWidth": 0, "values": [1, 0.82, 0.64, 0.45, 0.27, 0.09, -0.09, -0.27, -0.45, -0.64, -0.82, -1], "labelExpr": "datum.value === 1 ? '1' : datum.value === -1 ? '−1' : format(datum.value, '.2f')", "labelFontSize": 7, "labelColor": "#444", "labelOverlap": false, "labelOffset": 3, "encode": {"title": {"update": {"angle": {"value": -90}}}}}}
                  }
                },
                {
                  "data": {"name": "rings"},
                  "transform": [{"filter": {"field": "v", "equal": "BAL"}}],
                  "mark": {"type": "arc", "outerRadius": 71, "innerRadius": 67, "stroke": "white", "strokeWidth": 0.5},
                  "encoding": {
                    "theta": {"field": "a0", "type": "quantitative", "stack": null, "scale": {"domain": [0, 360], "range": [0, 6.2832], "nice": false}},
                    "theta2": {"field": "a1"},
                    "fill": {"field": "mod", "type": "nominal", "scale": {"domain": ["M", "F", "B", "O", "DO", "L", "R"], "range": ["#5a0a17", "#e08bc6", "#4e7fc4", "#de7634", "#cc6526", "#f1b26e", "#e6606b"]}, "legend": null}
                  }
                },
                {
                  "data": {"name": "rings"},
                  "transform": [{"filter": "datum.v === 'BAL' && datum.la >= 14 && datum.la <= 160"}],
                  "mark": {"type": "text", "radius": 75, "align": "left", "baseline": "middle", "color": "#444"},
                  "encoding": {
                    "theta": {"field": "la", "type": "quantitative", "scale": {"domain": [0, 360], "range": [0, 6.2832], "nice": false}},
                    "text": {"field": "name"},
                    "size": {"condition": {"test": "datum.major", "value": 7.5}, "value": 5.5}
                  }
                },
                {
                  "data": {"name": "rings"},
                  "transform": [{"filter": "datum.v === 'BAL' && datum.la >= 201 && datum.la <= 356"}],
                  "mark": {"type": "text", "radius": 76, "align": "right", "baseline": "middle", "color": "#444"},
                  "encoding": {
                    "theta": {"field": "la", "type": "quantitative", "scale": {"domain": [0, 360], "range": [0, 6.2832], "nice": false}},
                    "text": {"field": "name"},
                    "size": {"condition": {"test": "datum.major", "value": 7.5}, "value": 5.5}
                  }
                }
              ]
            },
            {
              "width": 148, "height": 142,
              "layer": [
                {
                  "data": {"values": [{"panel": "ETA"}]},
                  "mark": {"type": "arc", "outerRadius": 65.5, "innerRadius": 0, "theta": 0, "theta2": 6.2832, "fill": "#eee8ea"},
                  "encoding": {}
                },
                {
                  "data": {"name": "chords"},
                  "transform": [
                    {"filter": {"field": "v", "equal": "ETA"}},
                    {"fold": ["p0", "p1", "p2"], "as": ["k", "ang"]},
                    {"lookup": "ang", "from": {"data": {"name": "circle"}, "key": "ang", "fields": ["x", "y"]}}
                  ],
                  "mark": {"type": "line", "interpolate": "basis", "strokeWidth": 1.1, "strokeOpacity": 0.5},
                  "encoding": {
                    "x": {"field": "x", "type": "quantitative", "scale": {"domain": [-1.04, 1.04], "nice": false}, "axis": null},
                    "y": {"field": "y", "type": "quantitative", "scale": {"domain": [-1, 1], "nice": false}, "axis": {"title": "ETA", "labels": false, "ticks": false, "domain": false, "grid": false, "titlePadding": 58, "titleFontSize": 8, "titleFontWeight": "normal", "titleColor": "#444"}},
                    "detail": {"field": "c"},
                    "order": {"field": "k", "type": "ordinal"},
                    "stroke": {"field": "r", "type": "quantitative", "scale": {"scheme": "redblue", "domain": [-1, 1]},
                      "legend": {"orient": "none", "legendX": 211, "legendY": 20, "direction": "vertical", "title": "Correlation", "titleOrient": "left", "titleFontSize": 8, "titleFontWeight": "normal", "titleColor": "#444", "titlePadding": 3, "gradientLength": 117, "gradientThickness": 5, "gradientStrokeWidth": 0, "values": [1, 0.82, 0.64, 0.45, 0.27, 0.09, -0.09, -0.27, -0.45, -0.64, -0.82, -1], "labelExpr": "datum.value === 1 ? '1' : datum.value === -1 ? '−1' : format(datum.value, '.2f')", "labelFontSize": 7, "labelColor": "#444", "labelOverlap": false, "labelOffset": 3, "encode": {"title": {"update": {"angle": {"value": -90}}}}}}
                  }
                },
                {
                  "data": {"name": "rings"},
                  "transform": [{"filter": {"field": "v", "equal": "ETA"}}],
                  "mark": {"type": "arc", "outerRadius": 71, "innerRadius": 66.5, "stroke": "white", "strokeWidth": 0.6},
                  "encoding": {
                    "theta": {"field": "a0", "type": "quantitative", "stack": null, "scale": {"domain": [0, 360], "range": [0, 6.2832], "nice": false}},
                    "theta2": {"field": "a1"},
                    "fill": {"field": "mod", "type": "nominal", "scale": {"domain": ["M", "F", "B", "O", "DO", "L", "R"], "range": ["#5a0a17", "#e08bc6", "#4e7fc4", "#de7634", "#cc6526", "#f1b26e", "#e6606b"]}, "legend": null}
                  }
                },
                {
                  "data": {"name": "rings"},
                  "transform": [{"filter": "datum.v === 'ETA' && datum.la >= 14 && datum.la <= 160"}],
                  "mark": {"type": "text", "radius": 74, "align": "left", "baseline": "middle", "color": "#444"},
                  "encoding": {
                    "theta": {"field": "la", "type": "quantitative", "scale": {"domain": [0, 360], "range": [0, 6.2832], "nice": false}},
                    "text": {"field": "name"},
                    "size": {"condition": {"test": "datum.major", "value": 8}, "value": 5.5}
                  }
                },
                {
                  "data": {"name": "rings"},
                  "transform": [{"filter": "datum.v === 'ETA' && datum.la >= 201 && datum.la <= 356"}],
                  "mark": {"type": "text", "radius": 75, "align": "right", "baseline": "middle", "color": "#444"},
                  "encoding": {
                    "theta": {"field": "la", "type": "quantitative", "scale": {"domain": [0, 360], "range": [0, 6.2832], "nice": false}},
                    "text": {"field": "name"},
                    "size": {"condition": {"test": "datum.major", "value": 8}, "value": 5.5}
                  }
                },
                {
                  "data": {"name": "rings"},
                  "transform": [{"filter": "datum.v === 'ETA' && (datum.la < 14 || datum.la > 356 || (datum.la > 160 && datum.la < 201))"}],
                  "mark": {"type": "text", "radius": 80, "align": "center", "baseline": "middle", "color": "#444"},
                  "encoding": {
                    "theta": {"field": "la", "type": "quantitative", "scale": {"domain": [0, 360], "range": [0, 6.2832], "nice": false}},
                    "text": {"field": "name"},
                    "size": {"condition": {"test": "datum.major", "value": 8}, "value": 5.5}
                  }
                }
              ]
            }
          ],
          "spacing": 77, "bounds": "flush",
          "resolve": {"scale": {"fill": "independent", "stroke": "independent", "size": "independent", "color": "independent", "theta": "independent"}, "legend": {"fill": "independent", "stroke": "independent"}}
        }
      ],
      "spacing": 52, "bounds": "flush",
      "resolve": {"scale": {"fill": "independent", "stroke": "independent", "size": "independent", "color": "independent", "theta": "independent"}, "legend": {"fill": "independent", "stroke": "independent"}}
    }
  ]
}
